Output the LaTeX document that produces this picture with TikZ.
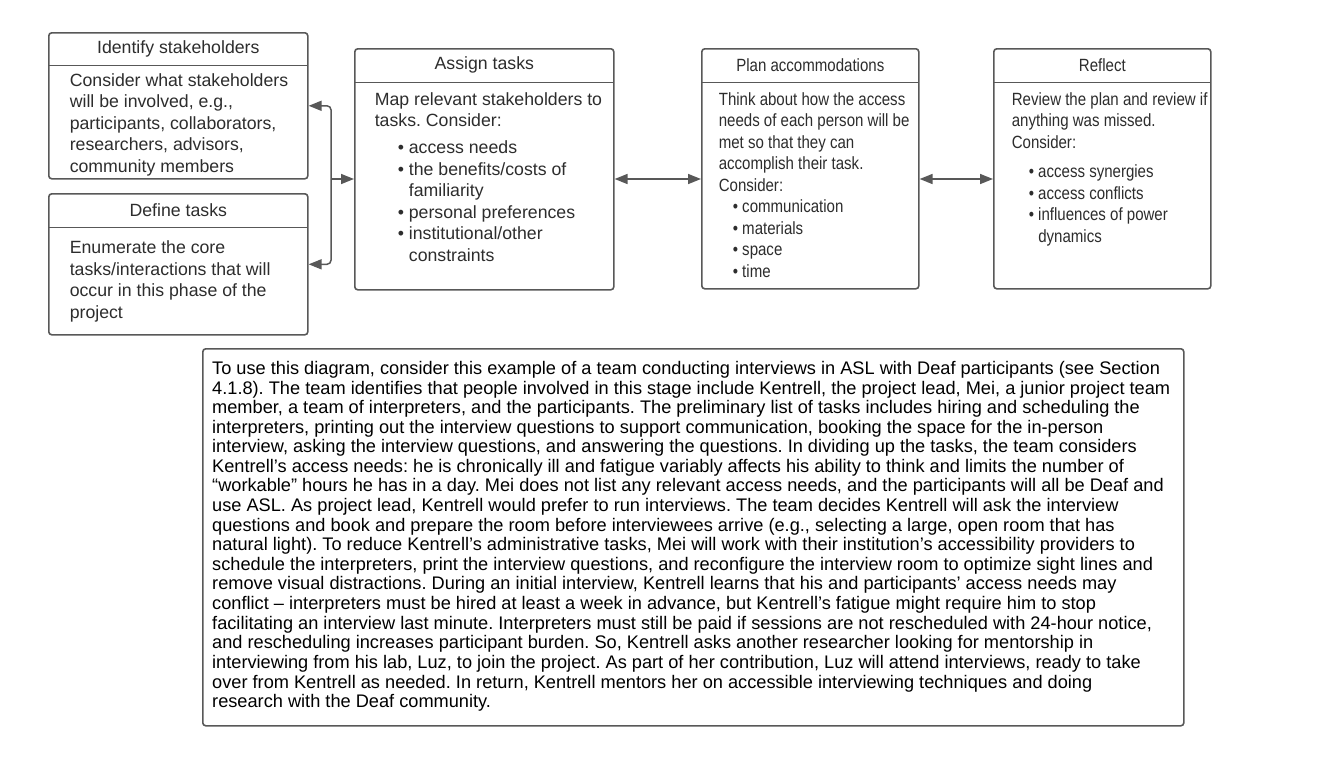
\documentclass[tikz,border=0pt]{standalone}
\usepackage{fontspec}
\setmainfont{Liberation Sans}
\newfontfamily\narrowsans[FakeStretch=0.85]{Liberation Sans}
\usetikzlibrary{arrows.meta}

\definecolor{edgegray}{RGB}{88,88,88}
\definecolor{inkgray}{RGB}{45,45,45}

% bullet lines inside the panels
\newcommand{\bul}[1][23pt]{\hspace*{#1}\textbullet\ \ignorespaces}
\newcommand{\bulcont}[1][23pt]{\hspace*{#1}\phantom{\textbullet\ }\ignorespaces}

\begin{document}
\frenchspacing
\begin{tikzpicture}[x=1pt,y=1pt,yscale=-1,
  panel/.style={draw=edgegray, line width=1.6pt, rounded corners=3pt, fill=white, anchor=north west, inner sep=0pt},
  headtext/.style={anchor=north, inner sep=0pt, text=inkgray, font=\fontsize{17.7}{21.5}\selectfont},
  bodytext/.style={anchor=north west, inner sep=0pt, align=left, text=inkgray, font=\fontsize{17.7}{21.5}\selectfont},
  narrowhead/.style={headtext, font=\narrowsans\fontsize{17.7}{21.5}\selectfont},
  narrowbody/.style={bodytext, font=\narrowsans\fontsize{17.7}{21.5}\selectfont},
  notetext/.style={anchor=north west, inner sep=0pt, align=left, text=black, font=\fontsize{18.2}{19.6}\selectfont},
  sepline/.style={draw=edgegray, line width=1.6pt},
  flow/.style={draw=edgegray, line width=1.5pt, rounded corners=4pt, -{Triangle[length=13pt,width=10pt]}},
  twoway/.style={flow, {Triangle[length=13pt,width=10pt]}-{Triangle[length=13pt,width=10pt]}}]
\useasboundingbox (0,0) rectangle (1338,774);

% Identify stakeholders
\node[panel, minimum width=259pt, minimum height=146pt] (ident) at (48,32) {};
\node[headtext, minimum width=259pt, minimum height=33pt] (identhd) at (ident.north) {Identify stakeholders};
\draw[sepline] (identhd.south west) -- (identhd.south east);
\node[bodytext] (identtx) at ([xshift=21pt, yshift=7.8pt]identhd.south west) {Consider what stakeholders\\will be involved, e.g.,\\participants, collaborators,\\researchers, advisors,\\community members};

% Define tasks
\node[panel, minimum width=259pt, minimum height=141pt] (define) at (48,193) {};
\node[headtext, minimum width=259pt, minimum height=34pt] (definehd) at (define.north) {Define tasks};
\draw[sepline] (definehd.south west) -- (definehd.south east);
\node[bodytext] (definetx) at ([xshift=21pt, yshift=13.2pt]definehd.south west) {Enumerate the core\\tasks/interactions that will\\occur in this phase of the\\project};

% Assign tasks
\node[panel, minimum width=259pt, minimum height=241pt] (assign) at (354,48) {};
\node[headtext, minimum width=259pt, minimum height=34pt] (assignhd) at (assign.north) {Assign tasks};
\draw[sepline] (assignhd.south west) -- (assignhd.south east);
\node[bodytext] (assigntx) at ([xshift=20pt, yshift=9.8pt]assignhd.south west) {Map relevant stakeholders to\\tasks. Consider:\\[5.5pt]
  \bul access needs\\\bul the benefits/costs of\\\bulcont familiarity\\\bul personal preferences\\\bul institutional/other\\\bulcont constraints};

% Plan accommodations
\node[panel, minimum width=217pt, minimum height=240pt] (plan) at (701,48) {};
\node[narrowhead, minimum width=217pt, minimum height=34pt] (planhd) at (plan.north) {Plan accommodations};
\draw[sepline] (planhd.south west) -- (planhd.south east);
\node[narrowbody] (plantx) at ([xshift=17pt, yshift=9.8pt]planhd.south west) {Think about how the access\\needs of each person will be\\met so that they can\\accomplish their task.\\Consider:\\
  \bul[14pt] communication\\\bul[14pt] materials\\\bul[14pt] space\\\bul[14pt] time};

% Reflect
\node[panel, minimum width=217pt, minimum height=240pt] (reflect) at (993,48) {};
\node[narrowhead, minimum width=217pt, minimum height=34pt] (reflecthd) at (reflect.north) {Reflect};
\draw[sepline] (reflecthd.south west) -- (reflecthd.south east);
\node[narrowbody] (reflecttx) at ([xshift=18pt, yshift=9.8pt]reflecthd.south west) {Review the plan and review if\\anything was missed.\\Consider:\\[8pt]
  \bul[17pt] access synergies\\\bul[17pt] access conflicts\\\bul[17pt] influences of power\\\bulcont[17pt] dynamics};

% Connectors
\coordinate (fork) at (331,179);
\draw[flow] (fork) |- (ident.east);
\draw[flow] (fork) |- (define.east);
\draw[flow] (fork) -- (assign.west |- fork);
\draw[twoway] (assign.east |- fork) -- (plan.west |- fork);
\draw[twoway] (plan.east |- fork) -- (reflect.west |- fork);

% Worked example
\node[panel, minimum width=981pt, minimum height=377pt] (example) at (202,348) {};
\node[notetext] (exampletx) at ([xshift=10pt, yshift=13pt]example.north west) {To use this diagram, consider this example of a team conducting interviews in ASL with Deaf participants (see Section\\
4.1.8). The team identifies that people involved in this stage include Kentrell, the project lead, Mei, a junior project team\\
member, a team of interpreters, and the participants. The preliminary list of tasks includes hiring and scheduling the\\
interpreters, printing out the interview questions to support communication, booking the space for the in-person\\
interview, asking the interview questions, and answering the questions. In dividing up the tasks, the team considers\\
Kentrell’s access needs: he is chronically ill and fatigue variably affects his ability to think and limits the number of\\
“workable” hours he has in a day. Mei does not list any relevant access needs, and the participants will all be Deaf and\\
use ASL. As project lead, Kentrell would prefer to run interviews. The team decides Kentrell will ask the interview\\
questions and book and prepare the room before interviewees arrive (e.g., selecting a large, open room that has\\
natural light). To reduce Kentrell’s administrative tasks, Mei will work with their institution’s accessibility providers to\\
schedule the interpreters, print the interview questions, and reconfigure the interview room to optimize sight lines and\\
remove visual distractions. During an initial interview, Kentrell learns that his and participants’ access needs may\\
conflict – interpreters must be hired at least a week in advance, but Kentrell’s fatigue might require him to stop\\
facilitating an interview last minute. Interpreters must still be paid if sessions are not rescheduled with 24-hour notice,\\
and rescheduling increases participant burden. So, Kentrell asks another researcher looking for mentorship in\\
interviewing from his lab, Luz, to join the project. As part of her contribution, Luz will attend interviews, ready to take\\
over from Kentrell as needed. In return, Kentrell mentors her on accessible interviewing techniques and doing\\
research with the Deaf community.};
\end{tikzpicture}
\end{document}
